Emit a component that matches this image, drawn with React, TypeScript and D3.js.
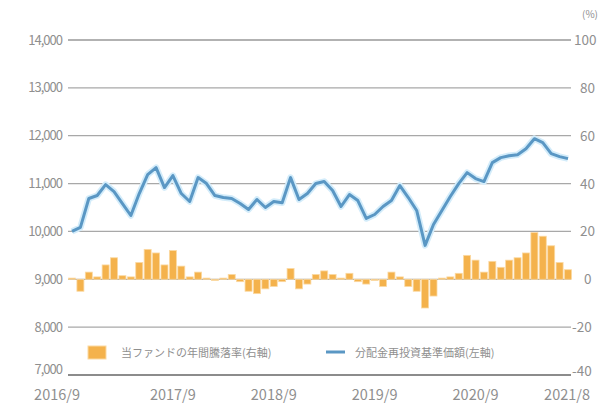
import React, { useEffect } from "react";
import * as d3 from "d3";

// Monthly, 2016/9 .. 2021/8
const months: string[] = (() => {
  const out: string[] = [];
  let y = 2016, m = 9;
  for (let i = 0; i < 60; i++) {
    out.push(`${y}/${m}`);
    m++;
    if (m > 12) { m = 1; y++; }
  }
  return out;
})();

const navValues = [
  10000, 10083, 10688, 10750, 10979, 10833, 10583, 10333, 10792, 11188,
  11333, 10917, 11167, 10792, 10625, 11125, 11000, 10750, 10708, 10688,
  10583, 10458, 10667, 10500, 10625, 10600, 11125, 10667, 10792, 11000,
  11042, 10854, 10521, 10771, 10646, 10271, 10354, 10521, 10646, 10958,
  10708, 10438, 9708, 10146, 10438, 10729, 11000, 11229, 11104, 11042,
  11438, 11542, 11583, 11604, 11729, 11938, 11854, 11625, 11563, 11521,
];

const annualReturns = [
  0.5, -5, 3, 1, 6, 9, 1.5, 1, 7, 12.5,
  11, 6, 12, 5.5, 1, 3, 0.5, -0.5, 0.5, 2,
  -1, -5, -6, -4, -3, -1, 4.5, -4, -2, 2,
  3.5, 2, 0.5, 2.5, -1, -2, -0.5, -3, 3, 1,
  -3, -5, -12, -7, 0.5, 1, 2.5, 10, 8, 3,
  7.5, 5, 8, 9, 11, 19.5, 18, 14, 7, 4,
];

const leftTicks = [7000, 8000, 9000, 10000, 11000, 12000, 13000, 14000];
const rightTicks = [-40, -20, 0, 20, 40, 60, 80, 100];
const xTickLabels = ["2016/9", "2017/9", "2018/9", "2019/9", "2020/9", "2021/8"];
const legendLabels = ["当ファンドの年間騰落率(右軸)", "分配金再投資基準価額(左軸)"];

const W = 614, H = 403;
const plotL = 72, plotR = 568, plotT = 40, plotB = 375;

export default function App() {
  useEffect(() => {
    document.body.style.margin = "0";
  }, []);

  const x = d3.scaleLinear().domain([0, months.length - 1]).range([plotL, plotR]);
  const yL = d3.scaleLinear().domain([7000, 14000]).range([plotB, plotT]);
  const yR = d3.scaleLinear().domain([-40, 100]).range([plotB, plotT]);
  const barW = 7;

  const line = d3.line<number>().x((_, i) => x(i)).y((d) => yL(d)).curve(d3.curveLinear);
  const path = line(navValues) || "";

  const font = "'Noto Sans CJK JP', 'Noto Sans', sans-serif";
  const textColor = "#8f8f8f";

  return (
    <svg width={W} height={H} style={{ display: "block", background: "#fff" }} fontFamily={font}>
      {/* gridlines */}
      {leftTicks.map((t) => (
        <line key={t} x1={68} x2={571} y1={yL(t)} y2={yL(t)}
          stroke={t === 7000 || t === 14000 ? "#666" : "#a8a8a8"} strokeWidth={t === 7000 ? 1.4 : 1.2} />
      ))}
      {/* left axis labels */}
      {leftTicks.map((t) => (
        <text key={"l" + t} x={62} y={yL(t) + (t === 7000 ? -1 : 4.5)} textAnchor="end" fontSize={13} fill={textColor} letterSpacing={-1}>
          {d3.format(",")(t)}
        </text>
      ))}
      {/* right axis labels */}
      {rightTicks.map((t) => (
        <text key={"r" + t} x={t < 0 ? 572 : 578 + (t === 0 ? 6 : t === 100 ? -4 : 2)} y={yR(t) + (t === -40 ? 1 : 5)} textAnchor="start" fontSize={13.5} fill={textColor}>
          {t === 0 ? "0" : t < 0 ? `-${-t}` : `${t}`}
        </text>
      ))}
      <text x={582} y={18} fontSize={10} fill={textColor}>(%)</text>

      {/* bars */}
      {annualReturns.map((v, i) => (
        <rect key={"b" + i} x={x(i) - barW / 2} width={barW}
          y={Math.min(yR(v), yR(0))} height={Math.abs(yR(v) - yR(0))}
          fill="#f4b24c" stroke="#fbd9a2" strokeWidth={0.8} />
      ))}

      {/* line glow + line */}
      <path d={path} fill="none" stroke="#d3ecfa" strokeWidth={6.5} strokeLinejoin="round" />
      <path d={path} fill="none" stroke="#5a97c4" strokeWidth={3} strokeLinejoin="round" />

      {/* x labels */}
      {xTickLabels.map((lab, k) => {
        const idx = months.indexOf(lab);
        let anchor: "middle" | "end" = "middle";
        let px = x(idx);
        if (k === 0) { anchor = "end"; px = x(idx) + 8; }
        if (k === xTickLabels.length - 1) { anchor = "end"; px = x(idx) + 22; }
        return (
          <text key={lab} x={px} y={400} textAnchor={anchor} fontSize={14.5} fill={textColor}>{lab}</text>
        );
      })}

      {/* legend */}
      <rect x={88} y={346} width={18} height={13} fill="#f4b24c" stroke="#fbd9a2" />
      <text x={121} y={357} fontSize={11} fill={textColor}>{legendLabels[0]}</text>
      <line x1={326} x2={345} y1={352} y2={352} stroke="#5a97c4" strokeWidth={3} />
      <text x={355} y={357} fontSize={11} fill={textColor}>{legendLabels[1]}</text>
    </svg>
  );
}
